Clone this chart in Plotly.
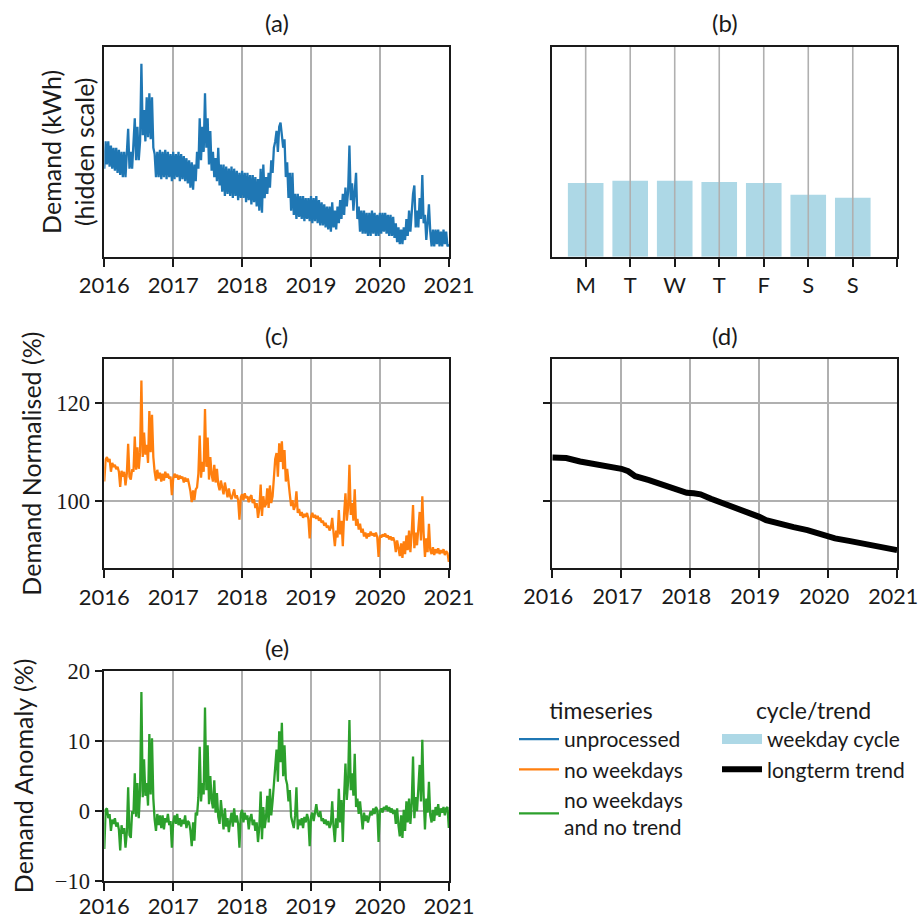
import pandas as pd
import plotly.graph_objects as go

# ---------------- data ----------------
# (a) unprocessed demand, hidden scale (percent of axis height), weekly samples 2016-2020
unprocessed = [
    42, 55, 44, 55, 43, 53, 42, 52, 41, 52, 40, 51, 39,
    50, 38, 50, 38, 49, 61, 42, 50, 42, 52, 66, 46, 62,
    46, 55, 92, 58, 70, 55, 76, 57, 78, 56, 76, 52, 49,
    38, 50, 38, 51, 37, 50, 38, 51, 37, 50, 38, 49, 36,
    50, 37, 49, 38, 50, 36, 49, 37, 48, 36, 47, 35, 46,
    33, 45, 32, 44, 36, 50, 42, 66, 46, 62, 50, 78, 52,
    66, 44, 60, 41, 50, 38, 47, 36, 52, 34, 44, 31, 44,
    29, 43, 30, 42, 29, 43, 28, 42, 29, 41, 27, 40, 28,
    41, 28, 40, 26, 40, 27, 39, 25, 39, 26, 38, 24, 37,
    22, 42, 21, 44, 28, 38, 30, 40, 33, 46, 40, 52, 55,
    60, 50, 62, 64, 58, 52, 56, 38, 45, 28, 40, 22, 40,
    20, 30, 18, 30, 19, 29, 18, 29, 17, 28, 18, 28, 17,
    29, 16, 28, 17, 29, 16, 27, 15, 26, 15, 25, 14, 24,
    13, 24, 12, 26, 14, 22, 13, 24, 16, 27, 18, 30, 20,
    33, 24, 31, 53, 27, 35, 22, 30, 40, 18, 24, 12, 22,
    11, 22, 11, 21, 10, 21, 10, 22, 11, 21, 10, 20, 10,
    21, 11, 21, 12, 21, 11, 20, 10, 20, 10, 19, 9, 16,
    7, 14, 6, 13, 6, 14, 8, 18, 10, 22, 12, 24, 30,
    34, 14, 22, 14, 28, 18, 39, 16, 20, 8, 16, 25, 12,
    5, 13, 5, 13, 6, 13, 5, 12, 5, 13, 6, 12, 5, 6,
]

# (c) demand normalised, no weekdays (%)
no_weekdays = [
    104.0, 108.5, 109.0, 108.0, 108.6, 106.0, 107.8, 107.0, 107.4, 106.5, 107.0, 106.0, 102.9,
    106.2, 105.0, 106.0, 103.2, 105.6, 111.7, 105.0, 104.4, 106.5, 106.0, 113.2, 106.4, 111.0,
    106.6, 110.0, 124.6, 109.0, 114.0, 109.5, 111.5, 107.8, 118.4, 110.0, 117.6, 109.0, 106.0,
    104.2, 106.4, 104.6, 105.8, 104.0, 105.6, 104.2, 106.0, 104.8, 105.6, 104.6, 105.0, 101.2,
    104.6, 105.6, 104.8, 105.4, 104.4, 105.2, 104.6, 105.0, 103.8, 104.8, 104.0, 104.6, 103.4,
    102.0, 99.8, 102.2, 100.2, 102.4, 102.8, 105.6, 113.4, 104.8, 108.0, 106.0, 118.8, 107.0,
    113.0, 104.4, 109.0, 105.4, 104.0, 107.4, 103.8, 106.6, 103.4, 102.2, 104.2, 102.6, 101.4,
    103.8, 101.8, 100.8, 102.6, 101.0, 100.4, 101.8, 102.4, 100.6, 101.2, 100.2, 96.2, 100.8,
    101.4, 100.2, 101.6, 100.6, 101.0, 99.8, 100.8, 101.2, 99.6, 100.4, 98.6, 99.6, 96.6,
    98.4, 103.4, 97.0, 101.0, 98.8, 99.4, 102.6, 98.6, 103.2, 99.6, 101.0, 104.0, 108.6,
    109.8, 105.0, 111.8, 108.0, 112.2, 106.5, 110.4, 104.0, 106.6, 103.0, 101.4, 99.0, 100.2,
    98.2, 99.0, 102.0, 97.6, 98.4, 97.0, 97.8, 96.6, 97.4, 96.8, 97.6, 96.4, 92.4,
    96.8, 97.6, 96.6, 97.2, 96.4, 97.0, 96.0, 96.6, 95.6, 96.0, 95.0, 95.6, 94.6,
    95.0, 94.0, 94.6, 96.6, 93.6, 90.8, 94.0, 92.6, 98.2, 93.2, 96.0, 90.8, 97.4,
    101.6, 96.0, 98.6, 107.4, 97.2, 99.6, 96.0, 102.4, 95.0, 96.4, 94.2, 95.4, 93.6,
    94.4, 92.8, 93.6, 92.4, 93.4, 92.8, 93.8, 93.0, 93.4, 92.8, 93.6, 92.6, 88.6,
    93.0, 92.6, 93.2, 92.8, 93.4, 92.6, 93.0, 92.2, 92.8, 92.0, 92.6, 91.8, 89.6,
    92.0, 90.4, 88.8, 91.4, 88.4, 91.8, 89.2, 93.0, 90.0, 94.0, 89.6, 93.6, 99.2,
    90.4, 93.6, 91.0, 94.6, 97.8, 92.0, 101.0, 93.4, 88.6, 92.4, 89.6, 95.4, 90.0,
    89.2, 90.6, 89.0, 90.2, 89.4, 90.4, 89.2, 90.0, 89.4, 90.2, 89.0, 89.8, 89.4, 87.6,
]

# (e) demand anomaly, no weekdays and no trend (%)
no_trend = [
    -5.4, 0.2, 0.4, -1.0, -0.4, -2.8, -1.2, -1.8, -1.0, -2.2, -1.6, -2.6, -5.6,
    -2.0, -3.2, -2.4, -5.2, -3.0, 3.4, -3.4, -3.8, 0.0, -0.4, 5.4, -0.8, 4.0,
    -1.0, 3.0, 17.0, 2.0, 7.4, 2.2, 4.0, 0.8, 11.0, 2.4, 10.4, 1.8, -1.2,
    -2.8, -0.4, -2.0, -0.6, -2.4, -0.6, -2.6, -1.0, -1.6, -0.4, -2.0, -1.4, -5.2,
    -1.6, -0.6, -1.8, -0.4, -2.0, -1.0, -2.2, -1.2, -1.8, -0.6, -2.4, -1.4, -1.6,
    -2.8, -5.0, -1.6, -4.2, -0.2, -0.6, 2.0, 9.2, 1.4, 4.0, 2.4, 14.8, 3.0,
    9.4, 1.0, 5.0, 1.6, 0.4, 4.4, -0.2, 2.6, -0.8, -1.8, 1.6, -1.2, -2.6,
    0.4, -2.2, -1.0, -3.0, -1.4, -0.2, -2.2, 0.4, -1.6, -0.6, -1.8, -5.2, -0.4,
    0.2, -1.6, -0.2, -1.2, -0.6, -2.6, -1.0, -0.4, -2.0, -1.2, -2.8, -1.6, -4.4,
    -2.2, 2.8, -4.0, 0.6, -2.4, -1.0, 2.2, -1.6, 3.2, -0.6, 1.4, 3.8, 6.4,
    8.8, 4.2, 11.4, 7.0, 12.6, 5.0, 9.4, 4.6, 3.8, 1.4, 3.0, -0.8, -1.6,
    -2.4, -0.6, 3.4, -2.6, -1.2, -2.0, -1.0, -2.4, -0.8, -1.6, -0.4, -1.2, -5.0,
    -0.8, -0.2, -1.4, 0.2, 1.0, -0.4, -0.8, 0.0, -1.4, -1.0, -1.8, -1.2, -2.0,
    -1.4, -2.4, -1.8, 1.4, -2.2, -4.4, -1.0, -2.4, 3.2, -1.6, 1.6, -4.4, 2.2,
    6.8, 1.6, 4.2, 13.0, 3.0, 5.4, 2.2, 8.2, 0.6, 1.8, -0.4, 1.4, -0.8,
    -2.6, -0.2, -1.4, -0.6, -1.6, -0.8, 0.0, -0.6, 0.4, -0.4, 0.6, 0.2, -4.4,
    0.0, 0.4, -0.2, 0.6, 0.2, 0.8, 0.0, 0.6, -0.2, 0.4, -0.4, 0.2, -1.8,
    0.4, -2.0, -3.6, -0.6, -3.8, 0.2, -2.8, 1.4, -1.6, 1.8, -1.8, 1.0, 7.8,
    -1.0, 2.0, 0.0, 3.0, 6.6, 1.4, 10.2, 2.2, -2.6, 1.8, -0.2, 4.2, -0.6,
    -1.6, 0.2, -1.4, 0.6, -0.6, 1.0, -0.8, 0.4, -0.2, 0.6, -0.6, 0.4, 0.6, -2.4,
]

# (b) weekday cycle (hidden scale, % of mean)
weekday_labels = ["M", "T", "W", "T", "F", "S", "S"]
weekday_cycle = [104.4, 107.3, 107.3, 105.8, 104.4, 87.5, 83.3]

# (d) long-term trend (%)
trend_dates = [
    "2016-01-01", "2016-03-15", "2016-05-27", "2016-08-08", "2016-10-19", "2016-11-25",
    "2017-01-01", "2017-02-06", "2017-03-15", "2017-05-27", "2017-08-08", "2017-10-19",
    "2017-12-13", "2018-01-19", "2018-02-24", "2018-04-20", "2018-07-02", "2018-09-13",
    "2018-11-07", "2019-01-01", "2019-02-06", "2019-04-20", "2019-07-02", "2019-09-13",
    "2019-11-25", "2020-02-06", "2020-04-20", "2020-07-02", "2020-09-13", "2020-11-25",
    "2020-12-31",
]
trend_values = [
    108.9, 108.8, 108.1, 107.7, 107.2, 106.8,
    106.6, 106.1, 105.1, 104.3, 103.3, 102.5,
    101.7, 101.6, 101.4, 100.5, 99.5, 98.6,
    97.7, 96.8, 96.1, 95.3, 94.7, 94.1,
    93.2, 92.4, 91.9, 91.3, 90.8, 90.2,
    90.0,
]

year_ticks = ["2016", "2017", "2018", "2019", "2020", "2021"]

# ---------------- figure ----------------
W, H = 920, 919
SANS = "Lato"
SERIF = "Liberation Serif"
INK = "#1a1a1a"
GRID = "#b0b0b0"
BAR = "#add8e6"


def xd(a, b):
    return [a / W, b / W]


def yd(top, bottom):
    return [1 - bottom / H, 1 - top / H]


def series_dates(vals):
    return pd.date_range("2016-01-01", "2020-12-31", periods=len(vals))


fig = go.Figure()

fig.add_trace(go.Scatter(x=series_dates(unprocessed), y=unprocessed, mode="lines",
                         line=dict(color="#1f77b4", width=2.3), name="unprocessed",
                         xaxis="x", yaxis="y", legend="legend", legendgroup="g1"))
fig.add_trace(go.Scatter(x=series_dates(no_weekdays), y=no_weekdays, mode="lines",
                         line=dict(color="#ff7f0e", width=2.3), name="no weekdays",
                         xaxis="x3", yaxis="y3", legend="legend", legendgroup="g2"))
fig.add_trace(go.Scatter(x=series_dates(no_trend), y=no_trend, mode="lines",
                         line=dict(color="#2ca02c", width=2.3), name="no weekdays<br>and no trend",
                         xaxis="x5", yaxis="y5", legend="legend", legendgroup="g3"))
fig.add_trace(go.Bar(x=list(range(len(weekday_cycle))), y=weekday_cycle, width=0.8,
                     marker=dict(color=BAR, line=dict(width=0)), name="weekday cycle",
                     xaxis="x2", yaxis="y2", showlegend=False, legendgroup="g4"))
# legend key for the bars, drawn as a wide flat patch like the reference
fig.add_trace(go.Scatter(x=[None], y=[None], mode="lines", line=dict(color=BAR, width=13),
                         name="weekday cycle", xaxis="x2", yaxis="y2",
                         legend="legend2", legendgroup="g4", hoverinfo="skip"))
fig.add_trace(go.Scatter(x=pd.to_datetime(trend_dates), y=trend_values, mode="lines",
                         line=dict(color="black", width=6), name="longterm trend",
                         xaxis="x4", yaxis="y4", legend="legend2", legendgroup="g5"))

common = dict(showline=True, linecolor=INK, linewidth=1.6, mirror=True,
              ticks="outside", ticklen=8, tickwidth=1.6, tickcolor=INK,
              gridcolor=GRID, gridwidth=1.6, zeroline=False, fixedrange=True,
              automargin=False, ticklabeloverflow="allow")
date_x = dict(common, type="date", range=["2016-01-01", "2021-01-01"],
              tickvals=year_ticks, ticktext=year_ticks, showgrid=True,
              tickfont=dict(family=SANS, size=22, color=INK))
no_y = dict(common, showticklabels=False, ticks="", showgrid=False)
serif_tick = dict(family=SERIF, size=22.5, color=INK)

LX = (104.3, 449.0)
RX = (552.3, 897.3)
R1 = (47.0, 256.8)
R2 = (359.0, 568.3)
R3 = (671.0, 881.3)

leg_common = dict(xanchor="left", yanchor="top", bgcolor="rgba(0,0,0,0)",
                  font=dict(family=SANS, size=21, color=INK),
                  itemwidth=40, tracegroupgap=1.5, traceorder="normal")

fig.update_layout(
    width=W, height=H, margin=dict(l=0, r=0, t=0, b=0, autoexpand=False),
    paper_bgcolor="white", plot_bgcolor="white",
    font=dict(family=SANS, size=21, color=INK),
    showlegend=True,
    xaxis=dict(date_x, domain=xd(*LX), anchor="y"),
    yaxis=dict(no_y, domain=yd(*R1), anchor="x", range=[0, 100]),
    xaxis2=dict(common, domain=xd(*RX), anchor="y2", range=[-0.75, 7],
                tickvals=list(range(len(weekday_labels) + 1)),
                ticktext=weekday_labels + [""], showgrid=False,
                tickfont=dict(family=SANS, size=22, color=INK)),
    yaxis2=dict(no_y, domain=yd(*R1), anchor="x2", range=[0, 296.3]),
    xaxis3=dict(date_x, domain=xd(*LX), anchor="y3"),
    yaxis3=dict(common, domain=yd(*R2), anchor="x3", range=[86.3, 129.0],
                tickvals=[100, 120], ticktext=["100", "120"], tickfont=serif_tick),
    xaxis4=dict(date_x, domain=xd(*RX), anchor="y4", ticklabelshift=-4,
                tickfont=dict(family=SANS, size=21.5, color=INK)),
    yaxis4=dict(common, domain=yd(*R2), anchor="x4", range=[86.3, 129.0],
                tickvals=[100, 120], showticklabels=False),
    xaxis5=dict(date_x, domain=xd(*LX), anchor="y5", ticklabelstandoff=-4),
    yaxis5=dict(common, domain=yd(*R3), anchor="x5", range=[-10, 20],
                tickvals=[-10, 0, 10, 20], ticktext=["\u221210", "0", "10", "20"],
                tickfont=serif_tick),
    legend=dict(leg_common, x=514 / W, y=1 - 689 / H,
                title=dict(text="timeseries", side="top center",
                           font=dict(family=SANS, size=23, color=INK))),
    legend2=dict(leg_common, x=717 / W, y=1 - 689 / H,
                 title=dict(text="cycle/trend", side="top center",
                            font=dict(family=SANS, size=23, color=INK))),
)

# vertical grid lines drawn above the bars in (b), one per weekday tick
for i in range(len(weekday_labels)):
    fig.add_shape(type="line", xref="x2", yref="y2 domain", x0=i, x1=i, y0=0, y1=1,
                  line=dict(color=GRID, width=1.6), layer="above")

# panel titles
for label, (xa, xb), (ya, yb) in [("(a)", LX, R1), ("(b)", RX, R1), ("(c)", LX, R2),
                                  ("(d)", RX, R2), ("(e)", LX, R3)]:
    fig.add_annotation(text=label, xref="paper", yref="paper", x=(xa + xb) / 2 / W,
                       y=1 - (ya - 24) / H, xanchor="center", yanchor="middle",
                       showarrow=False, font=dict(family=SANS, size=24, color=INK))

# y-axis titles
for text, xc, yc in [("Demand (kWh)<br>(hidden scale)", 68, (R1[0] + R1[1]) / 2),
                     ("Demand Normalised (%)", 31, (R2[0] + R2[1]) / 2),
                     ("Demand Anomaly (%)", 23, (R3[0] + R3[1]) / 2)]:
    fig.add_annotation(text=text, xref="paper", yref="paper", x=xc / W, y=1 - yc / H,
                       xanchor="center", yanchor="middle", textangle=-90, showarrow=False,
                       font=dict(family=SANS, size=25, color=INK))

fig.write_html("out.html")
